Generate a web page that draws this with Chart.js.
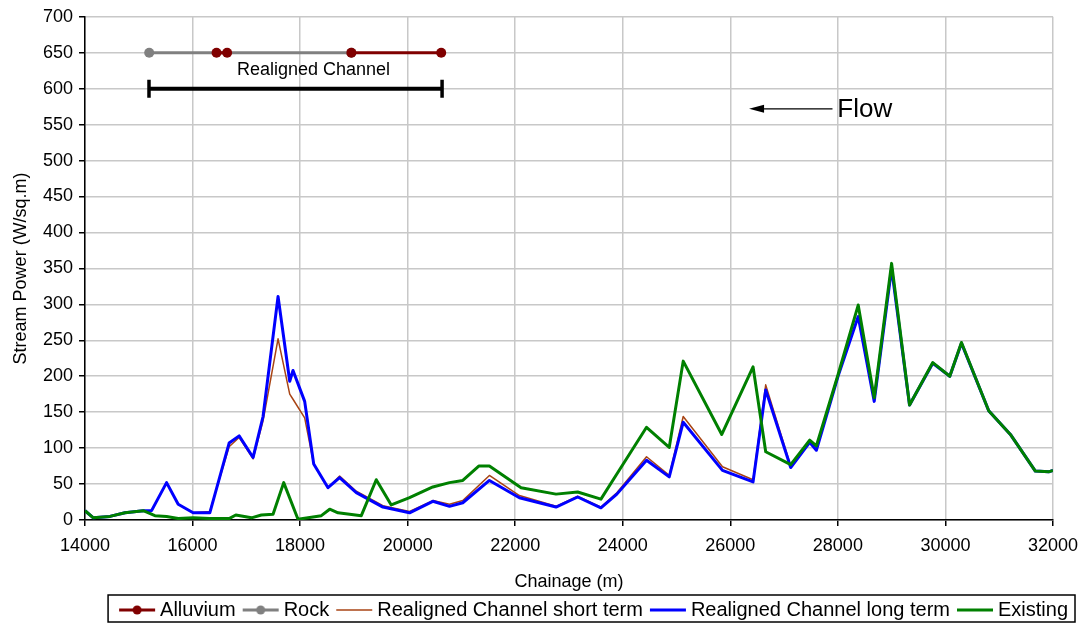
<!DOCTYPE html>
<html>
<head>
<meta charset="utf-8">
<script src="https://cdn.jsdelivr.net/npm/chart.js@4"></script>
<style>
  html, body { margin: 0; padding: 0; background: #fff; }
  #wrap { width: 1087px; height: 624px; position: relative; }
</style>
</head>
<body>
<div id="wrap"><canvas id="chart" width="1087" height="624"></canvas></div>
<script>
// chainage (m) for the realigned channel profiles
const chainage = [14000, 14155, 14464, 14743, 15083, 15238, 15517, 15733, 16011, 16321,
  16680, 16866, 17126, 17311, 17590, 17807, 17868, 18085, 18253, 18519,
  18735, 19045, 19540, 20035, 20468, 20778, 21025, 21520, 22078, 22759,
  23161, 23594, 23890, 24442, 24864, 25124, 25854, 26423, 26658, 27123,
  27476, 27600, 28003, 28378, 28676, 28999, 29333, 29765, 30081, 30298,
  30805, 31208, 31672, 31920, 32000];
const shortTerm = [13, 3, 5, 10, 13, 13, 52, 22, 10, 12,
  102, 115, 85, 138, 252, 175, 168, 142, 78, 45,
  61, 40, 20, 12, 27, 22, 27, 62, 34, 19,
  33, 18, 38, 88, 62, 144, 74, 56, 188, 75,
  108, 97, 200, 283, 165, 350, 160, 218, 200, 246,
  152, 119, 68, 67, 69];
const longTerm = [13, 3, 5, 10, 13, 13, 52, 22, 10, 10,
  107, 117, 87, 144, 311, 193, 208, 165, 78, 45,
  59, 38, 18, 10, 26, 19, 24, 55, 31, 18,
  32, 17, 36, 83, 60, 136, 69, 53, 181, 73,
  108, 97, 200, 283, 165, 350, 160, 218, 200, 246,
  152, 119, 68, 67, 69];

// existing channel
const existingChainage = [14000, 14155, 14464, 14743, 15083, 15300, 15517, 15733, 16011, 16321,
  16680, 16804, 17095, 17280, 17497, 17695, 17961, 18395, 18550, 18705,
  19138, 19416, 19695, 20035, 20468, 20778, 21025, 21322, 21520, 22109,
  22759, 23161, 23594, 23890, 24442, 24864, 25124, 25841, 26423, 26658,
  27123, 27476, 27600, 28003, 28378, 28676, 28999, 29333, 29765, 30081,
  30298, 30805, 31208, 31672, 31920, 32000];
const existing = [13, 3, 5, 10, 13, 6, 5, 2, 3, 2,
  2, 7, 3, 7, 8, 52, 1, 6, 15, 10,
  6, 56, 21, 31, 46, 52, 55, 75, 75, 45,
  36, 39, 29, 64, 129, 101, 221, 119, 213, 95,
  77, 111, 103, 202, 299, 170, 357, 160, 219, 200,
  247, 152, 119, 68, 67, 69];

// geology strip along the realigned reach (null = gap)
const alluviumChainage = [16446, 16643, 17800, 18953, 20624];
const alluviumLevel = [650, 650, null, 650, 650];
const rockChainage = [15194, 18953];
const rockLevel = [650, 650];
const realignedChainage = [15190, 20640];
const realignedLevel = [600, 600];

const seriesNames = ["Alluvium", "Rock", "Realigned Channel short term", "Realigned Channel long term", "Existing"];
const seriesColors = ["#800000", "#808080", "#a84414", "#0000ff", "#008000"];

const toPoints = (xs, ys) => xs.map((x, i) => ({ x: x, y: ys[i] }));

function legendIcon(color, lw, dot) {
  const c = document.createElement("canvas");
  c.width = 38;
  c.height = 14;
  const g = c.getContext("2d");
  g.strokeStyle = color;
  g.lineWidth = lw;
  g.beginPath();
  g.moveTo(1, 7);
  g.lineTo(37, 7);
  g.stroke();
  if (dot) {
    g.fillStyle = color;
    g.beginPath();
    g.arc(19, 7, 4.5, 0, Math.PI * 2);
    g.fill();
  }
  return c;
}

const icons = [
  legendIcon(seriesColors[0], 3, true),
  legendIcon(seriesColors[1], 3, true),
  legendIcon(seriesColors[2], 1.5, false),
  legendIcon(seriesColors[3], 3, false),
  legendIcon(seriesColors[4], 3, false),
];

const annotations = {
  id: "annotations",
  afterLayout(chart) {
    // nudge legend to where the original sits
    const lg = chart.legend;
    lg.left += 26; lg.right += 26;
    lg.top -= 9; lg.bottom -= 9;
  },
  afterDatasetsDraw(chart) {
    const { ctx, scales } = chart;
    const x = scales.x, y = scales.y;
    ctx.save();
    ctx.fillStyle = "#000";
    ctx.font = "18px 'Liberation Sans', Arial, sans-serif";
    ctx.textAlign = "center";
    ctx.textBaseline = "middle";
    ctx.fillText("Realigned Channel", x.getPixelForValue(18250), y.getPixelForValue(626));

    // flow arrow
    const ay = y.getPixelForValue(572);
    const x1 = x.getPixelForValue(27900), x2 = x.getPixelForValue(26349);
    ctx.strokeStyle = "#000";
    ctx.lineWidth = 1.3;
    ctx.beginPath();
    ctx.moveTo(x1, ay);
    ctx.lineTo(x2 + 8, ay);
    ctx.stroke();
    ctx.beginPath();
    ctx.moveTo(x2, ay);
    ctx.lineTo(x2 + 15, ay - 4);
    ctx.lineTo(x2 + 15, ay + 4);
    ctx.closePath();
    ctx.fill();
    ctx.font = "26px 'Liberation Sans', Arial, sans-serif";
    ctx.textAlign = "left";
    ctx.fillText("Flow", x.getPixelForValue(27990), ay + 1);
    ctx.restore();
  },
  afterDraw(chart) {
    const boxes = chart.legend.legendHitBoxes;
    if (!boxes || !boxes.length) return;
    const ctx = chart.ctx;
    let l = Infinity, r = -Infinity;
    boxes.forEach(b => { l = Math.min(l, b.left); r = Math.max(r, b.left + b.width); });
    ctx.save();
    ctx.strokeStyle = "#000";
    ctx.lineWidth = 1.5;
    ctx.strokeRect(l - 16, 595, r - l + 23, 27);
    ctx.restore();
  }
};

const lineSet = (i, xs, ys, width, order) => ({
  label: seriesNames[i],
  data: toPoints(xs, ys),
  borderColor: seriesColors[i],
  backgroundColor: seriesColors[i],
  borderWidth: width,
  borderJoinStyle: "round",
  pointRadius: 0,
  order: order,
});

new Chart(document.getElementById("chart"), {
  type: "line",
  data: {
    datasets: [
      {
        label: seriesNames[0],
        data: toPoints(alluviumChainage, alluviumLevel),
        borderColor: seriesColors[0],
        backgroundColor: seriesColors[0],
        borderWidth: 3,
        pointRadius: 5,
        pointBorderWidth: 0,
        spanGaps: false,
        order: 3,
      },
      {
        label: seriesNames[1],
        data: toPoints(rockChainage, rockLevel),
        borderColor: seriesColors[1],
        backgroundColor: seriesColors[1],
        borderWidth: 3,
        pointRadius: 5,
        pointBorderWidth: 0,
        order: 4,
      },
      lineSet(2, chainage, shortTerm, 1.5, 2),
      lineSet(3, chainage, longTerm, 3, 1),
      lineSet(4, existingChainage, existing, 3, 0),
      {
        label: "Realigned Channel",
        data: toPoints(realignedChainage, realignedLevel),
        borderColor: "#000",
        backgroundColor: "#000",
        borderWidth: 4,
        pointStyle: "line",
        pointRotation: 90,
        pointRadius: 9,
        pointBorderWidth: 3.5,
        order: 5,
      },
    ],
  },
  options: {
    responsive: false,
    animation: false,
    events: [],
    layout: { padding: { left: 0, right: 33, top: 15, bottom: -15 } },
    elements: { line: { tension: 0 } },
    plugins: {
      tooltip: { enabled: false },
      legend: {
        position: "bottom",
        align: "end",
        labels: {
          usePointStyle: true,
          pointStyleWidth: 26,
          padding: 12,
          boxHeight: 14,
          color: "#000",
          font: { size: 20, family: "'Liberation Sans', Arial, sans-serif" },
          generateLabels(chart) {
            return chart.data.datasets
              .map((ds, i) => ({
                text: ds.label,
                datasetIndex: i,
                pointStyle: icons[i],
                fillStyle: ds.borderColor,
                strokeStyle: ds.borderColor,
                lineWidth: 0,
                fontColor: "#000",
                hidden: false,
              }))
              .filter(l => l.datasetIndex < 5);
          },
        },
      },
    },
    scales: {
      x: {
        type: "linear",
        min: 14000,
        max: 32000,
        afterFit(s) { s.height = 77; },
        ticks: {
          stepSize: 2000,
          color: "#000",
          padding: 9,
          font: { size: 18, family: "'Liberation Sans', Arial, sans-serif" },
          callback: v => String(v),
          maxRotation: 0,
        },
        grid: { color: "#c8c8c8", lineWidth: 1.5, tickColor: "#000", tickLength: 6 },
        border: { color: "#000", width: 1.5 },
        title: {
          display: true,
          text: "Chainage (m)",
          color: "#000",
          padding: { top: 4, bottom: 4 },
          font: { size: 18, family: "'Liberation Sans', Arial, sans-serif" },
        },
      },
      y: {
        min: 0,
        max: 700,
        afterFit(s) { s.width = 85; },
        ticks: {
          stepSize: 50,
          color: "#000",
          padding: 6,
          font: { size: 18, family: "'Liberation Sans', Arial, sans-serif" },
        },
        grid: { color: "#c8c8c8", lineWidth: 1.5, tickColor: "#000", tickLength: 6 },
        border: { color: "#000", width: 1.5 },
        title: {
          display: true,
          text: "Stream Power (W/sq.m)",
          color: "#000",
          padding: { top: 10, bottom: 0 },
          font: { size: 18, family: "'Liberation Sans', Arial, sans-serif" },
        },
      },
    },
  },
  plugins: [annotations],
});
</script>
</body>
</html>
